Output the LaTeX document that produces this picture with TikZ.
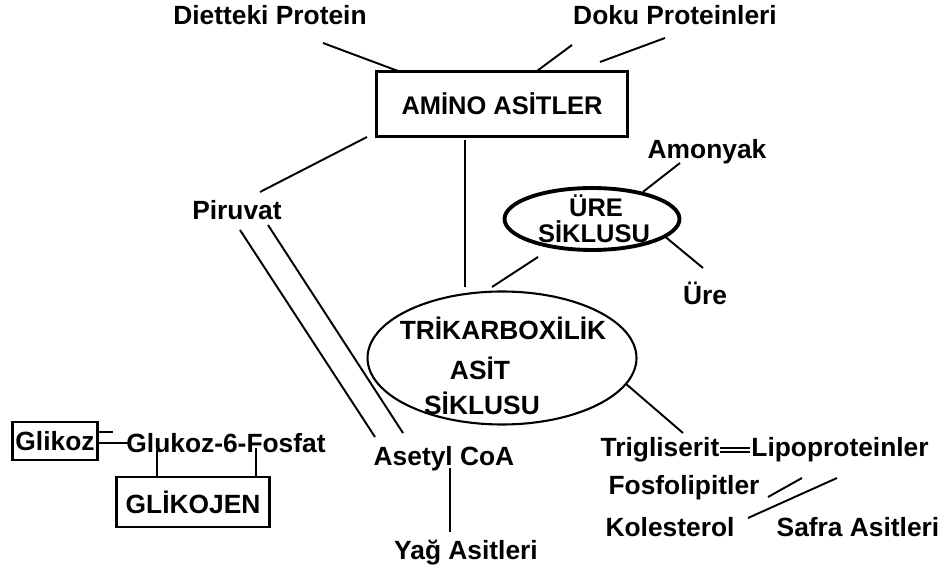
\documentclass[tikz,border=0pt]{standalone}
\usepackage{fontspec}
\setmainfont{Liberation Sans}
\usetikzlibrary{shapes.geometric}

\begin{document}
\begin{tikzpicture}[x=0.02cm,y=-0.02cm,line width=1.1pt,
  yazi/.style={font=\fontsize{15}{13}\selectfont\bfseries,inner sep=0pt},
  kutu/.style={yazi,draw,line width=1.3pt},
  halka/.style={yazi,draw,ellipse,line width=1.2pt}]

\useasboundingbox (0,0) rectangle (939,573);

\node[yazi] (diet) at (270,15) {Dietteki Protein};
\node[yazi] (doku) at (675,15) {Doku Proteinleri};
\node[kutu,font=\fontsize{14.5}{14.5}\selectfont\bfseries,line width=1.8pt,
  minimum width=5.02cm,minimum height=1.3cm] (amino) at (502,104) {AMİNO ASİTLER};

\node[yazi] (piruvat) at (237,210) {Piruvat};
\node[yazi] (amonyak) at (707,152) {Amonyak};
\node[halka,line width=2.2pt,minimum width=3.5cm,minimum height=1.24cm] (ure) at (592,219) {};
\node[yazi,font=\fontsize{14.5}{14.5}\selectfont\bfseries] (ure1) at (596,206) {ÜRE};
\node[yazi,font=\fontsize{14.5}{14.5}\selectfont\bfseries] (ure2) at (594,232) {SİKLUSU};
\node[yazi] (urea) at (705,293) {Üre};

\node[halka,minimum width=5.38cm,minimum height=2.66cm] (tca) at (502,358) {};
\node[yazi] (tca1) at (503,328) {TRİKARBOXİLİK};
\node[yazi] (tca2) at (480,368) {ASİT};
\node[yazi] (tca3) at (482,403) {SİKLUSU};

\node[yazi] (asetyl) at (444,459) {Asetyl CoA};
\node[yazi] (yag) at (466,553) {Yağ Asitleri};

\node[kutu,minimum width=1.7cm,minimum height=0.76cm] (glikoz) at (55,441) {Glikoz};
\node[yazi] (glukoz) at (226,443) {Glukoz-6-Fosfat};
\node[kutu,minimum width=3.06cm,minimum height=1cm] (glikojen) at (193,502) {GLİKOJEN};

\node[yazi] (trig) at (660,450) {Trigliserit};
\node[yazi] (lipo) at (840,450) {Lipoproteinler};
\node[yazi] (fosfo) at (684,488) {Fosfolipitler};
\node[yazi] (kol) at (670,527) {Kolesterol};
\node[yazi] (safra) at (858,527) {Safra Asitleri};

\coordinate (diet-a) at (323,43);
\coordinate (diet-b) at (398,71);
\coordinate (doku-a) at (572,45);
\coordinate (doku-b) at (537,71);
\coordinate (doku-c) at (665,38);
\coordinate (doku-d) at (600,62);
\coordinate (amino-p) at (367,137);
\coordinate (piruvat-a) at (260,192);
\coordinate (amino-t) at (465,140);
\coordinate (tca-t) at (465,287);
\coordinate (piruvat-b) at (240,230);
\coordinate (asetyl-b) at (375,437);
\coordinate (piruvat-c) at (268,225);
\coordinate (asetyl-c) at (403,433);
\coordinate (asetyl-y) at (450,468);
\coordinate (yag-y) at (450,532);
\coordinate (tca-u) at (492,287);
\coordinate (ure-t) at (538,257);
\coordinate (amonyak-u) at (680,163);
\coordinate (urea-u) at (703,268);
\coordinate (trig-t) at (683,433);
\coordinate (glikoz-a) at (98,432);
\coordinate (glukoz-a) at (113,432);
\coordinate (glikoz-b) at (98,443);
\coordinate (glukoz-b) at (128,443);
\coordinate (glukoz-c) at (157,450);
\coordinate (glukoz-d) at (256,448);
\coordinate (fosfo-l) at (768,497);
\coordinate (lipo-f) at (802,478);
\coordinate (kol-l) at (748,518);
\coordinate (lipo-k) at (837,478);

\draw (diet-a) -- (diet-b);
\draw (doku-a) -- (doku-b);
\draw (doku-c) -- (doku-d);
\draw (amino-p) -- (piruvat-a);
\draw (amino-t) -- (tca-t);
\draw (piruvat-b) -- (asetyl-b);
\draw (piruvat-c) -- (asetyl-c);
\draw (asetyl-y) -- (yag-y);
\draw (tca-u) -- (ure-t);
\draw (amonyak-u) -- (ure.28);
\draw (ure.-14) -- (urea-u);
\draw (tca.-12) -- (trig-t);
\draw (glikoz-a) -- (glukoz-a);
\draw (glikoz-b) -- (glukoz-b);
\draw (glukoz-c) -- (glukoz-c |- glikojen.north);
\draw (glukoz-d) -- (glukoz-d |- glikojen.north);
\draw[double,double distance=1.6pt,line width=0.9pt] (trig) -- (lipo);
\draw (fosfo-l) -- (lipo-f);
\draw (kol-l) -- (lipo-k);

\end{tikzpicture}
\end{document}
